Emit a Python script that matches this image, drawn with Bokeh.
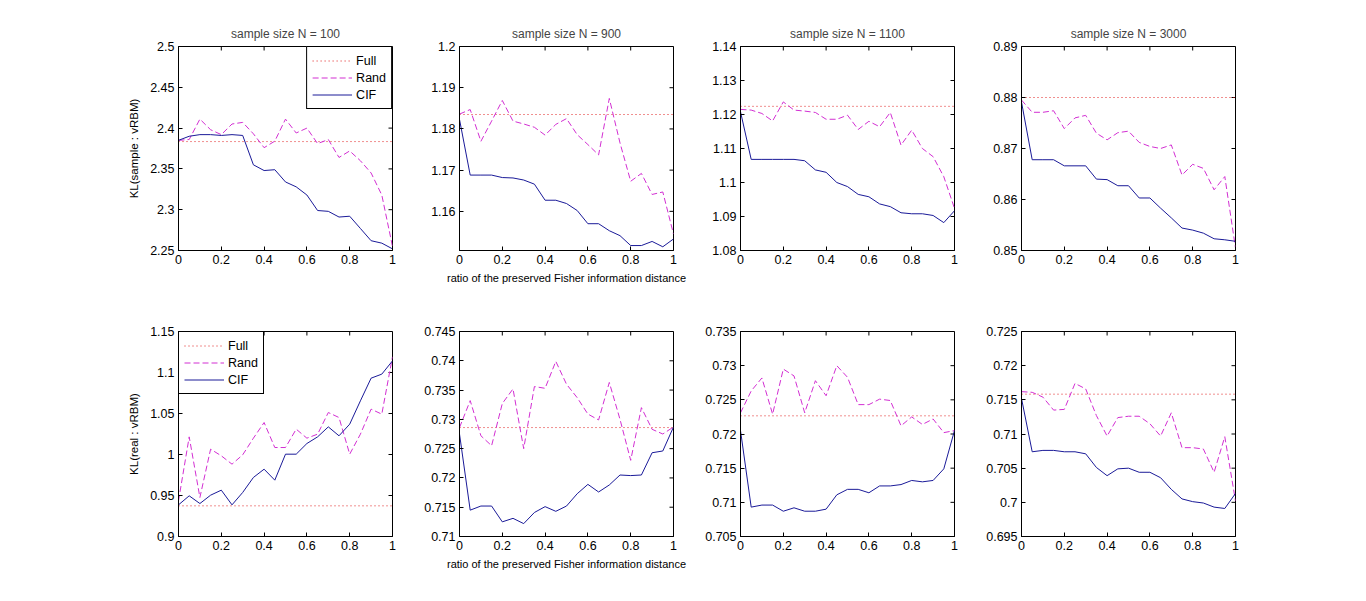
from bokeh.plotting import figure
from bokeh.layouts import row, column
from bokeh.models import Range1d, FixedTicker, CustomJSTickFormatter, Legend, LegendItem
from bokeh.embed import file_html
from bokeh.resources import INLINE

# ---------------- data ----------------
ratio = [0.0, 0.05, 0.10, 0.15, 0.20, 0.25, 0.30, 0.35, 0.40, 0.45, 0.50,
         0.55, 0.60, 0.65, 0.70, 0.75, 0.80, 0.85, 0.90, 0.95, 1.0]

titles = ["sample size N = 100", "sample size N = 900",
          "sample size N = 1100", "sample size N = 3000"]

# top row: KL(sample : vRBM)
full_sample = [2.3835, 1.1835, 1.1224, 0.8800]
cif_sample = [
    [2.385, 2.390, 2.392, 2.392, 2.391, 2.392, 2.391, 2.355, 2.348, 2.349, 2.334,
     2.328, 2.318, 2.299, 2.298, 2.291, 2.292, 2.277, 2.262, 2.259, 2.252],
    [1.1823, 1.1688, 1.1688, 1.1688, 1.1682, 1.1681, 1.1676, 1.1666, 1.1627, 1.1627, 1.1619,
     1.1602, 1.1570, 1.1570, 1.1553, 1.1541, 1.1517, 1.1517, 1.1527, 1.1514, 1.1533],
    [1.1208, 1.1068, 1.1068, 1.1068, 1.1068, 1.1068, 1.1064, 1.1037, 1.1030, 1.1000, 1.0988,
     1.0965, 1.0958, 1.0937, 1.0929, 1.0911, 1.0908, 1.0908, 1.0903, 1.0882, 1.0917],
    [0.8791, 0.8678, 0.8678, 0.8678, 0.8666, 0.8666, 0.8666, 0.8640, 0.8639, 0.8627, 0.8627,
     0.8603, 0.8603, 0.8583, 0.8564, 0.8544, 0.8540, 0.8534, 0.8523, 0.8521, 0.8518],
]
rand_sample = [
    [2.385, 2.386, 2.411, 2.398, 2.392, 2.405, 2.407, 2.393, 2.376, 2.384, 2.411,
     2.394, 2.400, 2.381, 2.386, 2.364, 2.372, 2.360, 2.345, 2.318, 2.255],
    [1.1836, 1.1847, 1.1770, 1.1819, 1.1869, 1.1819, 1.1812, 1.1804, 1.1785, 1.1811, 1.1825,
     1.1786, 1.1762, 1.1737, 1.1874, 1.1766, 1.1673, 1.1692, 1.1641, 1.1647, 1.1545],
    [1.1215, 1.1213, 1.1203, 1.1181, 1.1237, 1.1213, 1.1210, 1.1206, 1.1186, 1.1186, 1.1198,
     1.1156, 1.1180, 1.1164, 1.1206, 1.1110, 1.1154, 1.1100, 1.1076, 1.1017, 1.0924],
    [0.8795, 0.8771, 0.8771, 0.8774, 0.8739, 0.8760, 0.8765, 0.8730, 0.8717, 0.8731, 0.8734,
     0.8712, 0.8704, 0.8700, 0.8707, 0.8648, 0.8669, 0.8661, 0.8619, 0.8645, 0.8505],
]

# bottom row: KL(real : vRBM)
full_real = [0.9374, 0.7286, 0.72266, 0.71583]
cif_real = [
    [0.9386, 0.9496, 0.9402, 0.9504, 0.9565, 0.9386, 0.9537, 0.9720, 0.9821, 0.9687, 1.0004,
     1.0004, 1.0134, 1.0215, 1.0337, 1.0228, 1.0370, 1.0654, 1.0931, 1.0980, 1.1142],
    [0.7275, 0.7145, 0.7152, 0.7152, 0.7125, 0.7131, 0.7122, 0.7141, 0.7151, 0.7143, 0.7152,
     0.7173, 0.7189, 0.7176, 0.7188, 0.7205, 0.7204, 0.7205, 0.7243, 0.7246, 0.7287],
    [0.7205, 0.7093, 0.7096, 0.7096, 0.7087, 0.7092, 0.7087, 0.7087, 0.7090, 0.7111, 0.7119,
     0.7119, 0.7114, 0.7124, 0.7124, 0.7126, 0.7132, 0.7130, 0.7132, 0.7149, 0.7205],
    [0.7152, 0.7074, 0.7076, 0.7076, 0.7074, 0.7074, 0.7071, 0.7051, 0.7039, 0.7049, 0.7050,
     0.7044, 0.7044, 0.7036, 0.7019, 0.7005, 0.7001, 0.6999, 0.6993, 0.6991, 0.7013],
]
rand_real = [
    [0.9435, 1.0215, 0.9476, 1.0065, 0.9984, 0.9882, 0.9996, 1.0199, 1.0390, 1.0085, 1.0085,
     1.0309, 1.0199, 1.0248, 1.0512, 1.0451, 1.0004, 1.0248, 1.0553, 1.0492, 1.1191],
    [0.7286, 0.7332, 0.7272, 0.7255, 0.7327, 0.7352, 0.7250, 0.7356, 0.7353, 0.7399, 0.7360,
     0.7337, 0.7309, 0.7299, 0.7363, 0.7300, 0.7230, 0.7320, 0.7283, 0.7275, 0.7287],
    [0.7231, 0.7263, 0.7282, 0.7229, 0.7295, 0.7285, 0.7231, 0.7278, 0.7256, 0.7300, 0.7283,
     0.7243, 0.7243, 0.7251, 0.7249, 0.7212, 0.7225, 0.7214, 0.7222, 0.7202, 0.7205],
    [0.7162, 0.7161, 0.7154, 0.7135, 0.7136, 0.7174, 0.7166, 0.7127, 0.7097, 0.7124, 0.7126,
     0.7126, 0.7115, 0.7097, 0.7131, 0.7080, 0.7080, 0.7078, 0.7044, 0.7096, 0.7002],
]

x_ticks = [0, 0.2, 0.4, 0.6, 0.8, 1]
y_limits_sample = [(2.25, 2.5), (1.1505, 1.2), (1.08, 1.14), (0.85, 0.89)]
y_ticks_sample = [
    [2.25, 2.3, 2.35, 2.4, 2.45, 2.5],
    [1.16, 1.17, 1.18, 1.19, 1.2],
    [1.08, 1.09, 1.1, 1.11, 1.12, 1.13, 1.14],
    [0.85, 0.86, 0.87, 0.88, 0.89],
]
y_limits_real = [(0.9, 1.15), (0.71, 0.745), (0.705, 0.735), (0.695, 0.725)]
y_ticks_real = [
    [0.9, 0.95, 1.0, 1.05, 1.1, 1.15],
    [0.71, 0.715, 0.72, 0.725, 0.73, 0.735, 0.74, 0.745],
    [0.705, 0.71, 0.715, 0.72, 0.725, 0.73, 0.735],
    [0.695, 0.7, 0.705, 0.71, 0.715, 0.72, 0.725],
]

xlabel = "ratio of the preserved Fisher information distance"
ylabel_sample = "KL(sample : vRBM)"
ylabel_real = "KL(real : vRBM)"

FONT = "Liberation Sans"
C_FULL = "#e01e1e"
C_RAND = "#d22fd2"
C_CIF = "#1a1a98"

FRAME_W = 214
TICK_PX = 4
BORDERS_LEFT = [178, 57, 39, 57]
BORDERS_RIGHT = [10, 28, 10, 10]

fmt = CustomJSTickFormatter(code="return String(parseFloat(tick.toFixed(4)));")


def style_axis(ax, ticks):
    ax.ticker = FixedTicker(ticks=ticks)
    ax.formatter = fmt
    ax.major_tick_in = TICK_PX
    ax.major_tick_out = 0
    ax.minor_tick_line_color = None
    ax.axis_line_color = "black"
    ax.major_tick_line_color = "black"
    ax.major_label_text_font = FONT
    ax.major_label_text_color = "black"
    ax.major_label_text_font_size = "12.5px"
    ax.major_label_standoff = 4


def make_panel(idx, top, title, full, cif, rand, ylim, yticks, ylabel, xlab, legend_loc):
    frame_h = 204 if top else 205
    p = figure(
        frame_width=FRAME_W, frame_height=frame_h,
        x_range=Range1d(0, 1), y_range=Range1d(*ylim),
        output_backend="svg", toolbar_location=None,
        min_border_left=BORDERS_LEFT[idx], min_border_right=BORDERS_RIGHT[idx],
        min_border_top=46 if top else 36, min_border_bottom=45,
        title=title if top else None,
        background_fill_color="white", border_fill_color="white",
    )
    p.grid.visible = False
    p.outline_line_color = "black"
    p.outline_line_alpha = 1.0
    if top:
        p.title.align = "center"
        p.title.text_font = FONT
        p.title.text_font_size = "12px"
        p.title.text_font_style = "normal"
        p.title.standoff = 12

    style_axis(p.xaxis[0], x_ticks)
    style_axis(p.yaxis[0], yticks)
    p.xaxis[0].axis_label = xlab
    p.yaxis[0].axis_label = ylabel
    p.xaxis[0].axis_label_text_font_size = "11px"
    p.yaxis[0].axis_label_text_font_size = "11.5px"
    for ax in (p.xaxis[0], p.yaxis[0]):
        ax.axis_label_text_font = FONT
        ax.axis_label_text_font_style = "normal"
        ax.axis_label_text_color = "black"
    p.xaxis[0].axis_label_standoff = 5
    p.yaxis[0].axis_label_standoff = 7

    # inward ticks on the top and right edges of the box (MATLAB "box on")
    y0, y1 = ylim
    dy = TICK_PX / frame_h * (y1 - y0)
    dx = TICK_PX / FRAME_W * 1.0
    p.segment(x0=x_ticks, y0=[y1] * len(x_ticks), x1=x_ticks, y1=[y1 - dy] * len(x_ticks),
              line_color="black", line_width=1)
    p.segment(x0=[1.0] * len(yticks), y0=yticks, x1=[1.0 - dx] * len(yticks), y1=yticks,
              line_color="black", line_width=1)

    r_full = p.line([ratio[0], ratio[-1]], [full, full], line_color=C_FULL,
                    line_width=1, line_dash="1 3")
    r_rand = p.line(ratio, rand, line_color=C_RAND, line_width=1, line_dash="6 3")
    r_cif = p.line(ratio, cif, line_color=C_CIF, line_width=1)

    if legend_loc is not None:
        leg = Legend(items=[LegendItem(label="Full", renderers=[r_full]),
                            LegendItem(label="Rand", renderers=[r_rand]),
                            LegendItem(label="CIF", renderers=[r_cif])],
                     location=legend_loc)
        leg.margin = 0
        leg.padding = 5
        leg.spacing = 0
        leg.glyph_width = 40
        leg.glyph_height = 17
        leg.label_height = 17
        leg.label_standoff = 4
        leg.label_text_font = FONT
        leg.label_text_font_size = "12.5px"
        leg.label_text_color = "black"
        leg.border_line_color = "black"
        leg.border_line_alpha = 1.0
        leg.background_fill_color = "white"
        leg.background_fill_alpha = 1.0
        p.add_layout(leg, "center")
    return p


top_figs = []
bot_figs = []
for i in range(4):
    top_figs.append(make_panel(i, True, titles[i], full_sample[i], cif_sample[i], rand_sample[i],
                               y_limits_sample[i], y_ticks_sample[i],
                               ylabel_sample if i == 0 else "",
                               xlabel if i == 1 else "",
                               "top_right" if i == 0 else None))
    bot_figs.append(make_panel(i, False, None, full_real[i], cif_real[i], rand_real[i],
                               y_limits_real[i], y_ticks_real[i],
                               ylabel_real if i == 0 else "",
                               xlabel if i == 1 else "",
                               "top_left" if i == 0 else None))

layout = column(row(*top_figs), row(*bot_figs))

open("out.html", "w").write(file_html(layout, INLINE))
